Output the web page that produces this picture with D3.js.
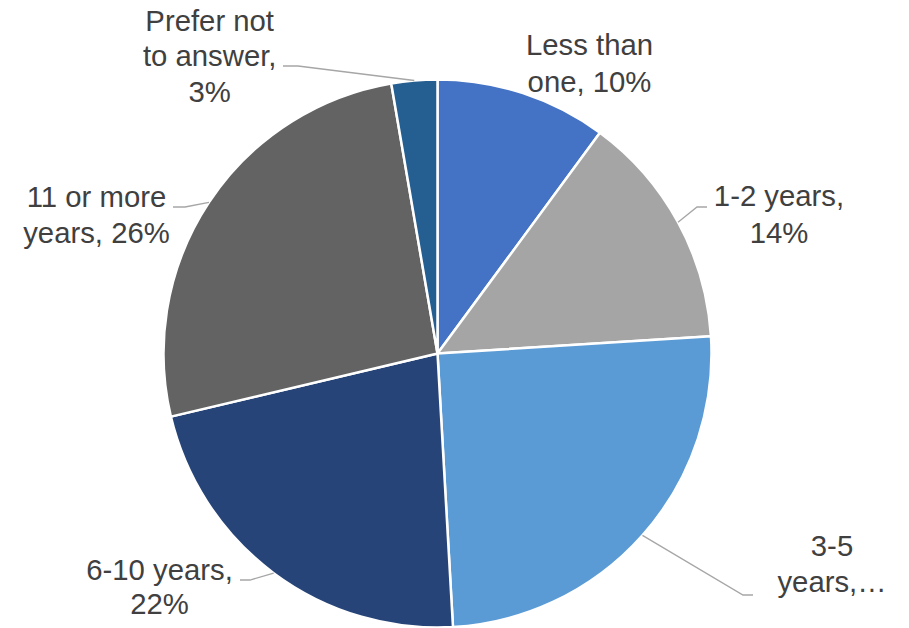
<!DOCTYPE html>
<html>
<head>
<meta charset="utf-8">
<script src="https://cdn.jsdelivr.net/npm/d3@7"></script>
<style>
  html, body { margin: 0; padding: 0; background: #fff; }
  svg { display: block; }
</style>
</head>
<body>
<svg id="chart" width="909" height="628"></svg>
<script>
// ---- data ----
const categories = ["Less than one", "1-2 years", "3-5 years", "6-10 years", "11 or more years", "Prefer not to answer"];
const values = [10.1, 13.9, 25.1, 22.2, 26.0, 2.7];
const labelLines = [
  ["Less than", "one, 10%"],
  ["1-2 years,", "14%"],
  ["3-5", "years,…"],
  ["6-10 years,", "22%"],
  ["11 or more", "years, 26%"],
  ["Prefer not", "to answer,", "3%"]
];
const colors = ["#4472C4", "#A5A5A5", "#5B9BD5", "#264478", "#636363", "#255E91"];

// ---- layout ----
const W = 909, H = 628;
const cx = 437.5, cy = 353.5, R = 274;
const fontSize = 29.3;
// label block: center x, first baseline, line step; leader: start at label side and elbow
const labelLayout = [
  { x: 589.5, y: 55,  step: 36.5, leader: null },
  { x: 779,   y: 206, step: 36.7, leader: { tx: 707, ty: 207, ex: 697, ey: 207 } },
  { x: 832,   y: 556, step: 35.7, leader: { tx: 753, ty: 595, ex: 743, ey: 595 } },
  { x: 159.5, y: 580, step: 33.5, leader: { tx: 240, ty: 580, ex: 250, ey: 580 } },
  { x: 96.5,  y: 207, step: 35.5, leader: { tx: 173, ty: 207, ex: 185, ey: 207 } },
  { x: 209.7, y: 30.5, step: 35.5, leader: { tx: 283, ty: 66, ex: 298, ey: 66 } }
];

const svg = d3.select("#chart");
const g = svg.append("g").attr("transform", `translate(${cx},${cy})`);

const pie = d3.pie().value(d => d.value).sort(null);
const arc = d3.arc().innerRadius(0).outerRadius(R);
const data = categories.map((c, i) => ({ cat: c, value: values[i], i }));
const arcs = pie(data);

g.selectAll("path.slice")
  .data(arcs)
  .enter().append("path")
  .attr("class", "slice")
  .attr("d", arc)
  .attr("fill", d => colors[d.data.i])
  .attr("stroke", "#ffffff")
  .attr("stroke-width", 2.5)
  .attr("stroke-linejoin", "round");

// leader lines (to slice mid-angle on the rim)
arcs.forEach((a, i) => {
  const L = labelLayout[i].leader;
  if (!L) return;
  const ang = (a.startAngle + a.endAngle) / 2;
  const px = cx + R * Math.sin(ang), py = cy - R * Math.cos(ang);
  svg.append("polyline")
    .attr("points", `${L.tx},${L.ty} ${L.ex},${L.ey} ${px},${py}`)
    .attr("fill", "none")
    .attr("stroke", "#A6A6A6")
    .attr("stroke-width", 1.3);
});

// labels
arcs.forEach((a, i) => {
  const lay = labelLayout[i];
  const t = svg.append("text")
    .attr("x", lay.x)
    .attr("y", lay.y)
    .attr("text-anchor", "middle")
    .attr("font-family", "'Liberation Sans', Arial, sans-serif")
    .attr("font-size", fontSize)
    .attr("fill", "#404040");
  labelLines[i].forEach((line, k) => {
    t.append("tspan").attr("x", lay.x).attr("y", lay.y + k * lay.step).text(line);
  });
});
</script>
</body>
</html>
